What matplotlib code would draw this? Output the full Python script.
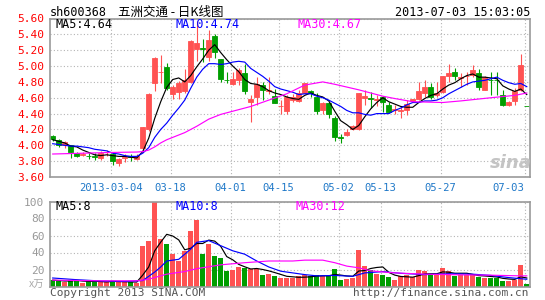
import matplotlib
matplotlib.use('Agg')
import matplotlib.pyplot as plt
import numpy as np

# daily K data, sh600368, 2013-02-18 .. 2013-07-03 (80 sessions)
opens = [4.12, 4.07, 4.00, 4.00, 3.90, 3.88, 3.87, 3.86, 3.84, 3.91,
         3.89, 3.78, 3.84, 3.86, 3.83, 3.96, 4.20, 4.78, 4.92, 4.99,
         4.65, 4.67, 4.69, 4.80, 5.21, 5.23, 5.12, 5.38, 5.09, 4.83,
         4.77, 4.83, 4.91, 4.55, 4.61, 4.76, 4.68, 4.62, 4.49, 4.43,
         4.57, 4.56, 4.66, 4.68, 4.61, 4.44, 4.54, 4.35, 4.10, 4.13,
         4.20, 4.21, 4.60, 4.60, 4.57, 4.61, 4.51, 4.45, 4.43, 4.44,
         4.56, 4.58, 4.66, 4.74, 4.63, 4.67, 4.87, 4.93, 4.85, 4.87,
         4.89, 4.91, 4.70, 4.83, 4.83, 4.63, 4.51, 4.56, 4.70, 4.50]
highs = [4.13, 4.08, 4.05, 4.01, 3.92, 3.91, 3.90, 3.90, 3.93, 3.94,
         3.91, 3.84, 3.89, 3.89, 3.89, 4.23, 4.66, 5.11, 5.14, 5.04,
         4.76, 4.81, 4.96, 5.33, 5.57, 5.34, 5.46, 5.40, 5.09, 4.93,
         4.93, 4.97, 5.03, 4.63, 4.86, 4.80, 4.86, 4.71, 4.57, 4.63,
         4.65, 4.70, 4.79, 4.70, 4.66, 4.55, 4.55, 4.37, 4.14, 4.21,
         4.26, 4.66, 4.70, 4.67, 4.63, 4.62, 4.55, 4.51, 4.49, 4.57,
         4.59, 4.80, 4.83, 4.79, 4.80, 4.88, 5.02, 4.97, 4.91, 4.93,
         5.01, 4.96, 4.87, 4.93, 4.93, 4.70, 4.56, 4.72, 5.15, 4.50]
lows = [4.06, 3.98, 3.97, 3.84, 3.85, 3.87, 3.83, 3.81, 3.81, 3.86,
        3.75, 3.74, 3.79, 3.80, 3.82, 3.93, 4.18, 4.68, 4.78, 4.70,
        4.58, 4.58, 4.66, 4.78, 5.07, 5.05, 5.06, 5.10, 4.80, 4.78,
        4.76, 4.76, 4.65, 4.30, 4.51, 4.57, 4.65, 4.53, 4.40, 4.40,
        4.55, 4.55, 4.65, 4.61, 4.40, 4.40, 4.34, 4.06, 4.03, 4.12,
        4.19, 4.19, 4.51, 4.47, 4.49, 4.42, 4.41, 4.40, 4.34, 4.38,
        4.55, 4.57, 4.61, 4.59, 4.61, 4.66, 4.80, 4.82, 4.74, 4.76,
        4.86, 4.70, 4.70, 4.63, 4.63, 4.49, 4.49, 4.51, 4.68, 4.50]
closes = [4.08, 4.00, 4.04, 3.91, 3.87, 3.89, 3.86, 3.85, 3.90, 3.92,
          3.80, 3.83, 3.85, 3.85, 3.86, 4.23, 4.65, 5.10, 4.93, 4.72,
          4.73, 4.79, 4.83, 5.31, 5.29, 5.22, 5.33, 5.18, 4.84, 4.82,
          4.84, 4.95, 4.68, 4.59, 4.77, 4.70, 4.70, 4.54, 4.50, 4.61,
          4.61, 4.66, 4.78, 4.66, 4.43, 4.54, 4.40, 4.10, 4.09, 4.17,
          4.24, 4.66, 4.62, 4.59, 4.58, 4.55, 4.42, 4.46, 4.44, 4.52,
          4.58, 4.68, 4.74, 4.61, 4.66, 4.87, 4.91, 4.88, 4.86, 4.88,
          4.95, 4.74, 4.86, 4.82, 4.82, 4.51, 4.55, 4.68, 5.01, 4.50]
# volume, x万
volumes = [8, 8, 5, 8, 7, 4, 6, 6, 6, 5,
           7, 5, 5, 5, 4, 48, 53, 100, 56, 50,
           38, 30, 42, 65, 78, 38, 50, 36, 34, 18,
           19, 23, 22, 21, 21, 13, 15, 12, 10, 10,
           10, 12, 13, 12, 14, 12, 12, 21, 8, 9,
           10, 43, 24, 20, 15, 13, 11, 8, 12, 13,
           11, 20, 18, 13, 13, 22, 18, 12, 13, 13,
           15, 11, 10, 10, 10, 7, 7, 8, 25, 3]

ma5 = [4.07, 4.05, 4.03, 3.99, 3.98, 3.94, 3.91, 3.88, 3.87, 3.88,
       3.87, 3.86, 3.86, 3.85, 3.84, 3.92, 4.09, 4.34, 4.55, 4.73,
       4.83, 4.85, 4.80, 4.88, 4.99, 5.09, 5.20, 5.27, 5.17, 5.08,
       5.00, 4.93, 4.83, 4.78, 4.77, 4.74, 4.69, 4.66, 4.64, 4.61,
       4.59, 4.58, 4.63, 4.66, 4.63, 4.61, 4.56, 4.43, 4.31, 4.26,
       4.20, 4.25, 4.36, 4.46, 4.54, 4.60, 4.55, 4.52, 4.49, 4.48,
       4.48, 4.54, 4.59, 4.63, 4.65, 4.71, 4.76, 4.79, 4.84, 4.88,
       4.90, 4.86, 4.86, 4.85, 4.84, 4.75, 4.71, 4.68, 4.71, 4.64]
ma10 = [4.02, 4.01, 4.00, 3.99, 3.99, 3.98, 3.97, 3.95, 3.94, 3.93,
        3.90, 3.89, 3.87, 3.86, 3.86, 3.90, 3.97, 4.10, 4.20, 4.28,
        4.38, 4.47, 4.57, 4.72, 4.86, 4.96, 5.03, 5.03, 5.02, 5.03,
        5.05, 5.06, 5.05, 4.97, 4.92, 4.87, 4.81, 4.74, 4.71, 4.69,
        4.67, 4.64, 4.65, 4.65, 4.62, 4.60, 4.57, 4.53, 4.49, 4.44,
        4.41, 4.41, 4.39, 4.38, 4.40, 4.40, 4.40, 4.44, 4.47, 4.51,
        4.54, 4.54, 4.56, 4.56, 4.57, 4.60, 4.65, 4.69, 4.73, 4.77,
        4.80, 4.81, 4.82, 4.84, 4.86, 4.82, 4.79, 4.77, 4.78, 4.74]
ma30_idx = [0, 5, 10, 14, 15, 16, 17, 18, 19, 20, 22, 24, 26, 28, 30, 33, 36,
            39, 42, 45, 47, 51, 55, 57, 60, 65, 68, 73, 77, 79]
ma30 = [3.89, 3.90, 3.91, 3.915, 3.92, 3.94, 3.98, 4.03, 4.07, 4.10, 4.16,
        4.24, 4.33, 4.39, 4.43, 4.49, 4.57, 4.65, 4.76, 4.80, 4.77, 4.70,
        4.62, 4.59, 4.55, 4.54, 4.56, 4.60, 4.63, 4.66]

vma5 = [7.5, 7, 6.5, 6.5, 7.2, 6.4, 6, 6.2, 5.8, 5.4,
        6, 5.8, 5.6, 5.4, 5.2, 13.4, 23, 42, 52.2, 61.4,
        59.4, 54.8, 43.2, 45, 50.6, 50.6, 54.6, 53.4, 47.2, 35.2,
        31.4, 26, 23.2, 20.6, 21.2, 20, 18.4, 16.4, 14.2, 12,
        11.4, 10.8, 11, 11.4, 12.2, 12.6, 12.6, 14.2, 13.4, 12.4,
        12, 18.2, 18.8, 21.2, 22.4, 23, 16.6, 13.4, 11.8, 11.4,
        11, 12.8, 14.8, 15, 15, 17.2, 16.8, 15.6, 15.6, 15.6,
        14.2, 12.8, 12.4, 11.8, 11.2, 9.6, 8.8, 8.4, 11.4, 10]
vma10_idx = [0, 4, 8, 12, 15, 16, 17, 18, 19, 21, 23, 24, 26, 28, 30, 32, 34,
             36, 38, 40, 42, 44, 47, 50, 52, 55, 58, 62, 66, 70, 73, 76, 79]
vma10 = [10, 8, 6.5, 6, 7, 12, 17, 23, 30, 32, 44, 52, 54, 48, 42, 38, 30,
         23, 18, 16, 14, 12.5, 13, 12, 16, 17.5, 15.5, 14, 15, 14.5, 13,
         10.5, 8.5]
vma30_idx = [0, 8, 14, 15, 16, 19, 22, 24, 28, 32, 36, 40, 42, 45, 47, 49, 51,
             53, 56, 58, 62, 68, 73, 78, 79]
vma30 = [7.5, 6.7, 6.7, 7.5, 8.6, 14.5, 17.6, 21, 25.5, 28, 30, 30, 31, 31,
         28, 24, 22, 18.4, 16.5, 15.7, 14.5, 13.7, 13.3, 12.5, 12.5]

tick_idx = [10, 20, 30, 38, 48, 55, 65, 79]
tick_labels = ['2013-03-04', '03-18', '04-01', '04-15', '05-02', '05-13',
               '05-27', '07-03']
price_ticks = [3.60, 3.80, 4.00, 4.20, 4.40, 4.60, 4.80, 5.00, 5.20, 5.40, 5.60]
vol_ticks = [20, 40, 60, 80, 100]

RED = '#FF5252'
GREEN = '#009E00'
GRID = '#b4b4b4'
BORDER = '#9a9a9a'
MONO = 'DejaVu Sans Mono'
CJK = ['Noto Sans CJK SC', 'DejaVu Sans']

W, H = 545, 300
fig = plt.figure(figsize=(W / 100, H / 100), dpi=100)


def box(left, top, right, bottom):
    return [left / W, 1 - bottom / H, (right - left) / W, (bottom - top) / H]


ax = fig.add_axes(box(50, 18.5, 529.5, 177))
axv = fig.add_axes(box(50, 201.5, 529.5, 286.5))

x = np.arange(len(closes))
o = np.array(opens)
c = np.array(closes)
prev = np.r_[c[0], c[:-1]]
up = (c > o) | ((c == o) & (c >= prev))
cols = np.where(up, RED, GREEN)

# candles
ax.vlines(x, lows, highs, colors=cols, linewidth=0.8, zorder=2)
ax.bar(x, np.abs(c - o), bottom=np.minimum(o, c), width=0.8, color=cols,
       edgecolor=cols, linewidth=0.6, zorder=2)
ax.plot(x, ma5, color='black', lw=0.85, zorder=3)
ax.plot(x, ma10, color='#0000FF', lw=0.85, zorder=3)
ax.plot(ma30_idx, ma30, color='#FF00FF', lw=0.85, zorder=3)

# volume
axv.bar(x, volumes, width=0.8, color=cols, linewidth=0, zorder=2)
axv.plot(x, vma5, color='black', lw=0.85, zorder=3)
axv.plot(vma10_idx, vma10, color='#0000FF', lw=0.85, zorder=3)
axv.plot(vma30_idx, vma30, color='#FF00FF', lw=0.85, zorder=3)

grid_x = [i - 0.35 for i in tick_idx]
for a in (ax, axv):
    a.set_xlim(-0.45, 79.45)
    a.set_xticks(grid_x)
    for s in a.spines.values():
        s.set_color(BORDER)
        s.set_linewidth(1.2)
    a.grid(True, color=GRID, linestyle=(0, (1, 2)), linewidth=0.8)
    a.set_axisbelow(True)
    a.tick_params(length=0, pad=4)

ax.set_ylim(3.60, 5.60)
ax.set_yticks(price_ticks)
ax.set_yticklabels(['%.2f' % p for p in price_ticks], color='#FF0000',
                   family=MONO, fontsize=8)
ax.set_xticklabels(tick_labels, color='#1F78C8', family=MONO, fontsize=7.6)
ax.get_xticklabels()[-1].set_horizontalalignment('right')

axv.set_ylim(0, 100)
axv.set_yticks(vol_ticks)
axv.set_yticklabels([str(v) for v in vol_ticks], color='#999999',
                    family=MONO, fontsize=8)
axv.set_xticklabels([])

# headers
fig.text(50 / W, 1 - 12 / H, 'sh600368', family=MONO, fontsize=8.5,
         va='center', ha='left')
fig.text(118 / W, 1 - 12 / H, '五洲交通 - 日K线图', family=CJK, fontsize=9,
         va='center', ha='left')
fig.text(530 / W, 1 - 12 / H, '2013-07-03 15:03:05', family=MONO,
         fontsize=8.5, va='center', ha='right')

ma_labels = [('MA5:4.64', 55, 'black'), ('MA10:4.74', 175, '#0000FF'),
             ('MA30:4.67', 297, '#FF00FF')]
for txt, px, col in ma_labels:
    fig.text(px / W, 1 - 25 / H, txt, family=MONO, fontsize=8.5, color=col,
             va='center', ha='left')
vma_labels = [('MA5:8', 55, 'black'), ('MA10:8', 175, '#0000FF'),
              ('MA30:12', 296, '#FF00FF')]
for txt, px, col in vma_labels:
    fig.text(px / W, 1 - 207 / H, txt, family=MONO, fontsize=8.5, color=col,
             va='center', ha='left')

fig.text(44 / W, 1 - 285 / H, 'x万', family=CJK, fontsize=7.5,
         color='#aaaaaa', va='center', ha='right')
fig.text(50 / W, 1 - 293 / H, 'Copyright 2013 SINA.COM', family=MONO,
         fontsize=8, color='#555555', va='center', ha='left')
fig.text(529 / W, 1 - 293 / H, 'http://finance.sina.com.cn', family=MONO,
         fontsize=8, color='#555555', va='center', ha='right')
fig.text(511 / W, 1 - 163 / H, 'sina', fontsize=13, fontweight='bold',
         style='italic', color='#c4c4c4', va='center', ha='center')

fig.savefig('out.png', dpi=100)
